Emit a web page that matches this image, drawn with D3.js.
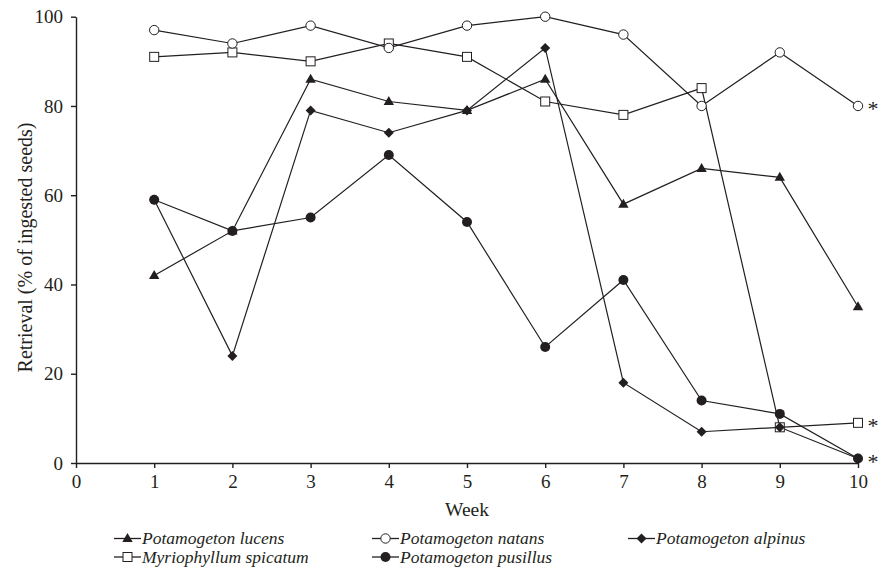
<!DOCTYPE html>
<html><head><meta charset="utf-8">
<script src="https://cdn.jsdelivr.net/npm/d3@7"></script>
<style>body{margin:0;background:#fff}svg{display:block}svg text{font-family:"Liberation Serif","Times New Roman",serif}</style>
</head><body><svg id="c" width="889" height="567"></svg>
<script>
const weeks = [1,2,3,4,5,6,7,8,9,10];
const lucens = [42,52,86,81,79,86,58,66,64,35];
const natans = [97,94,98,93,98,100,96,80,92,80];
const alpinus = [59,24,79,74,79,93,18,7,8,1];
const myriophyllum = [91,92,90,94,91,81,78,84,8,9];
const pusillus = [59,52,55,69,54,26,41,14,11,1];
const xTicks = [0,1,2,3,4,5,6,7,8,9,10];
const yTicks = [0,20,40,60,80,100];
const seriesNames = ["Potamogeton lucens","Potamogeton natans","Potamogeton alpinus","Myriophyllum spicatum","Potamogeton pusillus"];
const significant = ["Potamogeton natans","Myriophyllum spicatum","Potamogeton pusillus"];

const series = [
  {name:seriesNames[0], values:lucens, sym:"triangle"},
  {name:seriesNames[3], values:myriophyllum, sym:"square"},
  {name:seriesNames[2], values:alpinus, sym:"diamond"},
  {name:seriesNames[4], values:pusillus, sym:"fcircle"},
  {name:seriesNames[1], values:natans, sym:"ocircle"}
];

const svg = d3.select("#c");
const x = d3.scaleLinear().domain([0,10]).range([76,858]);
const y = d3.scaleLinear().domain([0,100]).range([463,16.7]);

const col = "#231f20";
const xAxis = svg.append("g").attr("transform","translate(0,463)")
  .call(d3.axisBottom(x).tickValues(xTicks).tickSize(5).tickSizeOuter(0));
xAxis.selectAll("text").attr("dy",null).attr("y",25);
const yAxis = svg.append("g").attr("transform","translate(76,0)")
  .call(d3.axisLeft(y).tickValues(yTicks).tickSize(5).tickPadding(8).tickSizeOuter(0));
[xAxis,yAxis].forEach(a=>{
  a.attr("font-family",null).attr("font-size",null);
  a.selectAll("path,line").attr("stroke",col).attr("stroke-width",1.4);
  a.selectAll("text").attr("fill",col).style("font-size","19px");
});

svg.append("text").attr("x",467).attr("y",516).attr("text-anchor","middle")
  .attr("fill",col).style("font-size","19.5px").text("Week");
svg.append("text").attr("transform","translate(31.5,247.5) rotate(-90)").attr("text-anchor","middle")
  .attr("fill",col).style("font-size","20px").text("Retrieval (% of ingested seeds)");

function drawSym(g, sym, cx, cy){
  if(sym==="triangle"){
    g.append("path").attr("d","M0,-5.5L5.2,3.5L-5.2,3.5Z").attr("transform",`translate(${cx},${cy})`).attr("fill",col);
  } else if(sym==="square"){
    g.append("rect").attr("x",cx-4.5).attr("y",cy-4.5).attr("width",9).attr("height",9).attr("fill","#fff").attr("stroke",col).attr("stroke-width",1);
  } else if(sym==="diamond"){
    g.append("path").attr("d","M0,-5L5,0L0,5L-5,0Z").attr("transform",`translate(${cx},${cy})`).attr("fill",col);
  } else if(sym==="fcircle"){
    g.append("circle").attr("cx",cx).attr("cy",cy).attr("r",5).attr("fill",col);
  } else {
    g.append("circle").attr("cx",cx).attr("cy",cy).attr("r",4.7).attr("fill","#fff").attr("stroke",col).attr("stroke-width",1);
  }
}

const line = d3.line().x((d,i)=>x(weeks[i])).y(d=>y(d));
series.forEach(s=>{
  svg.append("path").datum(s.values).attr("d",line).attr("fill","none").attr("stroke",col).attr("stroke-width",1.2);
});
series.forEach(s=>{
  const g = svg.append("g");
  s.values.forEach((v,i)=>drawSym(g,s.sym,x(weeks[i]),y(v)));
});

// significance asterisks
series.filter(s=>significant.includes(s.name)).forEach(s=>{
  svg.append("text").attr("x",x(10)+15).attr("y",y(s.values[9])+10).attr("text-anchor","middle").attr("fill",col)
    .style("font-size","22px").text("*");
});

// legend
const legendPos = [
  {name:seriesNames[0], sym:"triangle", lx:114, ly:538.5},
  {name:seriesNames[1], sym:"ocircle", lx:372, ly:538.5},
  {name:seriesNames[2], sym:"diamond", lx:628, ly:538.5},
  {name:seriesNames[3], sym:"square", lx:114, ly:557},
  {name:seriesNames[4], sym:"fcircle", lx:372, ly:557}
];
legendPos.forEach(l=>{
  const g = svg.append("g");
  g.append("line").attr("x1",l.lx).attr("x2",l.lx+27).attr("y1",l.ly).attr("y2",l.ly).attr("stroke",col).attr("stroke-width",1.3);
  drawSym(g,l.sym,l.lx+13.5,l.ly);
  g.append("text").attr("x",l.lx+28).attr("y",l.ly+5.5).attr("fill",col)
    .style("font-size","17.5px").style("font-style","italic").text(l.name);
});
</script></body></html>
